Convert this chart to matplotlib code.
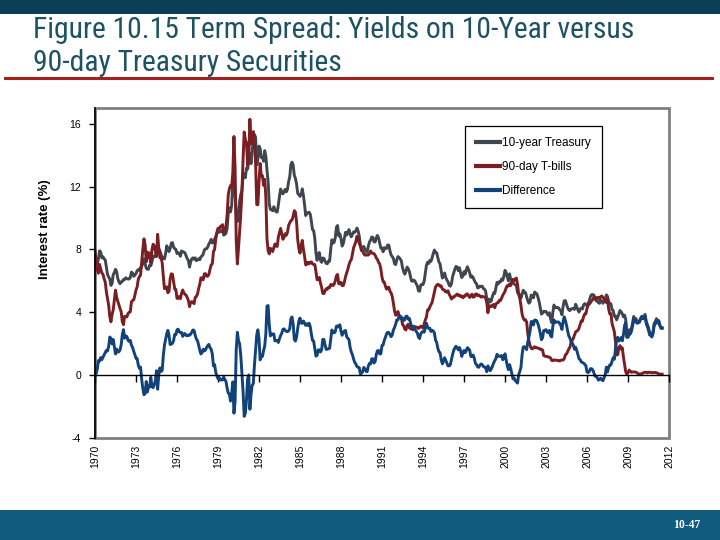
import numpy as np
import matplotlib
matplotlib.use("Agg")
import matplotlib.pyplot as plt
from matplotlib.patches import Rectangle
from matplotlib.lines import Line2D
from matplotlib import font_manager

# ---------------- data (monthly, Jan 1970 - Jul 2011) ----------------
start_year = 1970
t10 = [
    7.79, 7.24, 7.07, 7.39, 7.91, 7.84, 7.46, 7.53, 7.39, 7.33, 6.84, 6.39,
    6.24, 6.11, 5.70, 5.83, 6.39, 6.52, 6.73, 6.58, 6.14, 5.93, 5.81, 5.93,
    5.95, 6.08, 6.07, 6.19, 6.13, 6.11, 6.11, 6.21, 6.55, 6.48, 6.28, 6.36,
    6.46, 6.64, 6.71, 6.67, 6.85, 6.90, 7.13, 7.40, 7.09, 6.79, 6.73, 6.74,
    6.99, 6.96, 7.21, 7.51, 7.58, 7.54, 7.81, 8.04, 8.04, 7.90, 7.68, 7.43,
    7.50, 7.39, 7.73, 8.23, 8.06, 7.86, 8.06, 8.40, 8.43, 8.14, 8.05, 8.00,
    7.74, 7.79, 7.73, 7.56, 7.90, 7.86, 7.83, 7.77, 7.59, 7.41, 7.29, 6.87,
    7.21, 7.39, 7.46, 7.37, 7.46, 7.28, 7.33, 7.40, 7.34, 7.52, 7.58, 7.69,
    7.96, 8.03, 8.04, 8.15, 8.35, 8.46, 8.64, 8.41, 8.42, 8.64, 8.81, 9.01,
    9.10, 9.10, 9.12, 9.18, 9.25, 8.91, 8.95, 9.03, 9.33, 10.30, 10.65, 10.39,
    10.80, 12.41, 12.75, 11.47, 10.18, 9.78, 10.25, 11.10, 11.51, 11.75, 12.68, 12.84,
    12.57, 13.19, 13.12, 13.68, 14.10, 13.47, 14.28, 14.94, 15.32, 15.15, 13.39, 13.72,
    14.59, 14.43, 13.86, 13.87, 13.62, 14.30, 13.95, 13.06, 12.34, 10.91, 10.55, 10.54,
    10.46, 10.72, 10.51, 10.40, 10.38, 10.85, 11.38, 11.85, 11.65, 11.54, 11.69, 11.83,
    11.67, 11.84, 12.32, 12.63, 13.41, 13.56, 13.36, 12.72, 12.52, 12.16, 11.57, 11.50,
    11.38, 11.51, 11.86, 11.43, 10.85, 10.16, 10.31, 10.33, 10.37, 10.24, 9.78, 9.26,
    9.19, 8.70, 7.78, 7.30, 7.71, 7.80, 7.30, 7.17, 7.45, 7.43, 7.25, 7.11,
    7.08, 7.25, 7.25, 8.02, 8.61, 8.40, 8.45, 8.76, 9.42, 9.52, 8.86, 8.99,
    8.67, 8.21, 8.37, 8.72, 9.09, 8.92, 9.06, 9.26, 8.98, 8.80, 8.96, 9.11,
    9.09, 9.17, 9.36, 9.18, 8.86, 8.28, 8.02, 8.11, 8.19, 8.01, 7.87, 7.84,
    8.21, 8.47, 8.59, 8.79, 8.76, 8.48, 8.47, 8.75, 8.89, 8.72, 8.39, 8.08,
    8.09, 7.85, 8.11, 8.04, 8.07, 8.28, 8.27, 7.90, 7.65, 7.53, 7.42, 7.09,
    7.03, 7.34, 7.54, 7.48, 7.39, 7.26, 6.84, 6.59, 6.42, 6.59, 6.87, 6.77,
    6.60, 6.26, 5.98, 5.97, 6.04, 5.96, 5.81, 5.68, 5.36, 5.33, 5.72, 5.77,
    5.75, 5.97, 6.48, 6.97, 7.18, 7.10, 7.30, 7.24, 7.46, 7.74, 7.96, 7.81,
    7.78, 7.47, 7.20, 7.06, 6.63, 6.17, 6.28, 6.49, 6.20, 6.04, 5.93, 5.71,
    5.65, 5.81, 6.27, 6.51, 6.74, 6.91, 6.87, 6.64, 6.83, 6.53, 6.20, 6.30,
    6.58, 6.42, 6.69, 6.89, 6.71, 6.49, 6.22, 6.30, 6.21, 6.03, 5.88, 5.81,
    5.54, 5.57, 5.65, 5.64, 5.65, 5.50, 5.46, 5.34, 4.81, 4.53, 4.83, 4.65,
    4.72, 5.00, 5.23, 5.18, 5.54, 5.90, 5.79, 5.94, 5.92, 6.11, 6.03, 6.28,
    6.66, 6.52, 6.26, 5.99, 6.44, 6.10, 6.05, 5.83, 5.80, 5.74, 5.72, 5.24,
    5.16, 5.10, 4.89, 5.14, 5.39, 5.28, 5.24, 4.97, 4.73, 4.57, 4.65, 5.09,
    5.04, 4.91, 5.28, 5.21, 5.16, 4.93, 4.65, 4.26, 3.87, 3.94, 4.05, 4.03,
    4.05, 3.90, 3.81, 3.96, 3.57, 3.33, 3.98, 4.45, 4.27, 4.29, 4.30, 4.27,
    4.15, 4.08, 3.83, 4.35, 4.72, 4.73, 4.50, 4.28, 4.13, 4.10, 4.19, 4.23,
    4.22, 4.17, 4.50, 4.34, 4.14, 4.00, 4.18, 4.26, 4.20, 4.46, 4.54, 4.47,
    4.42, 4.57, 4.72, 4.99, 5.11, 5.11, 5.09, 4.88, 4.72, 4.73, 4.60, 4.56,
    4.76, 4.72, 4.56, 4.69, 4.75, 5.10, 5.00, 4.67, 4.52, 4.53, 4.15, 4.10,
    3.74, 3.74, 3.51, 3.68, 3.88, 4.10, 4.01, 3.89, 3.69, 3.81, 3.53, 2.42,
    2.52, 2.87, 2.82, 2.93, 3.29, 3.72, 3.56, 3.59, 3.40, 3.39, 3.40, 3.59,
    3.73, 3.69, 3.73, 3.85, 3.42, 3.20, 3.01, 2.70, 2.65, 2.54, 2.76, 3.29,
    3.39, 3.58, 3.41, 3.46, 3.17, 3.00, 3.00,
]
tbill = [
    7.91, 7.16, 6.71, 6.48, 7.04, 6.74, 6.50, 6.41, 6.12, 5.91, 5.28, 4.87,
    4.44, 3.70, 3.38, 3.86, 4.14, 4.75, 5.40, 4.94, 4.69, 4.46, 4.22, 4.01,
    3.38, 3.20, 3.73, 3.71, 3.69, 3.91, 3.98, 4.02, 4.66, 4.74, 4.78, 5.07,
    5.41, 5.60, 6.09, 6.26, 6.36, 7.19, 8.01, 8.67, 8.29, 7.22, 7.83, 7.45,
    7.77, 7.12, 7.96, 8.33, 8.23, 7.90, 7.55, 8.96, 8.06, 7.46, 7.47, 7.15,
    6.26, 5.50, 5.49, 5.61, 5.23, 5.34, 6.13, 6.44, 6.42, 5.96, 5.48, 5.44,
    4.87, 4.88, 5.00, 4.86, 5.20, 5.41, 5.23, 5.14, 5.08, 4.92, 4.75, 4.35,
    4.62, 4.67, 4.60, 4.54, 4.94, 5.00, 5.15, 5.50, 5.77, 6.19, 6.16, 6.06,
    6.44, 6.45, 6.29, 6.29, 6.41, 6.73, 7.01, 7.08, 7.85, 7.99, 8.64, 9.08,
    9.35, 9.27, 9.46, 9.49, 9.58, 9.05, 9.26, 9.45, 10.18, 11.47, 11.87, 12.07,
    12.00, 12.86, 15.20, 13.20, 8.58, 7.07, 8.06, 9.13, 10.27, 11.62, 13.73, 15.49,
    15.02, 14.79, 13.36, 13.69, 16.30, 14.73, 14.95, 15.51, 14.70, 13.54, 10.86, 10.85,
    12.28, 13.48, 12.68, 12.70, 12.09, 12.47, 11.35, 8.68, 7.92, 7.71, 8.07, 7.94,
    7.86, 8.11, 8.35, 8.21, 8.19, 8.79, 9.08, 9.34, 9.00, 8.64, 8.76, 9.00,
    8.90, 9.09, 9.52, 9.69, 9.83, 9.87, 10.12, 10.47, 10.37, 9.74, 8.61, 8.06,
    7.76, 8.22, 8.57, 8.00, 7.56, 7.01, 7.05, 7.18, 7.08, 7.17, 7.20, 7.07,
    7.04, 7.03, 6.59, 6.06, 6.12, 6.21, 5.84, 5.57, 5.19, 5.18, 5.35, 5.49,
    5.45, 5.59, 5.56, 5.76, 5.75, 5.69, 5.78, 6.00, 6.32, 6.40, 5.81, 5.80,
    5.90, 5.69, 5.69, 5.92, 6.27, 6.50, 6.73, 7.02, 7.23, 7.34, 7.68, 8.09,
    8.29, 8.48, 8.83, 8.70, 8.40, 8.22, 7.92, 7.91, 7.72, 7.63, 7.65, 7.64,
    7.64, 7.74, 7.90, 7.77, 7.74, 7.73, 7.62, 7.45, 7.36, 7.17, 7.06, 6.74,
    6.22, 5.94, 5.91, 5.65, 5.46, 5.57, 5.58, 5.33, 5.22, 4.99, 4.56, 4.07,
    3.80, 3.84, 4.04, 3.75, 3.63, 3.66, 3.21, 3.13, 2.91, 2.86, 3.13, 3.22,
    3.00, 2.93, 2.95, 2.87, 2.96, 3.07, 3.04, 3.02, 2.95, 3.02, 3.10, 3.06,
    2.98, 3.25, 3.50, 3.68, 4.14, 4.14, 4.33, 4.48, 4.62, 4.95, 5.29, 5.60,
    5.71, 5.77, 5.73, 5.65, 5.67, 5.47, 5.42, 5.40, 5.28, 5.28, 5.36, 5.14,
    5.00, 4.83, 4.96, 4.95, 5.02, 5.09, 5.15, 5.05, 5.09, 4.99, 5.03, 4.91,
    5.03, 5.01, 5.14, 5.16, 5.05, 4.93, 5.05, 5.14, 4.95, 4.97, 5.14, 5.16,
    5.04, 5.09, 5.03, 4.95, 5.00, 4.98, 4.96, 4.90, 4.61, 3.96, 4.41, 4.39,
    4.34, 4.45, 4.48, 4.28, 4.51, 4.59, 4.60, 4.76, 4.73, 4.88, 5.07, 5.20,
    5.32, 5.55, 5.69, 5.66, 5.79, 5.69, 5.96, 6.09, 6.00, 6.11, 6.17, 5.77,
    5.15, 4.88, 4.42, 3.87, 3.62, 3.49, 3.51, 3.36, 2.64, 2.16, 1.87, 1.69,
    1.65, 1.73, 1.79, 1.72, 1.73, 1.70, 1.68, 1.62, 1.63, 1.58, 1.23, 1.19,
    1.17, 1.17, 1.13, 1.13, 1.07, 0.92, 0.90, 0.95, 0.94, 0.92, 0.93, 0.90,
    0.88, 0.93, 0.94, 0.94, 1.02, 1.27, 1.33, 1.48, 1.65, 1.76, 2.07, 2.19,
    2.33, 2.54, 2.74, 2.78, 2.84, 2.97, 3.22, 3.44, 3.42, 3.71, 3.88, 3.89,
    4.24, 4.43, 4.51, 4.60, 4.72, 4.79, 4.95, 4.96, 4.81, 4.92, 4.94, 4.85,
    4.98, 5.03, 4.94, 4.87, 4.73, 4.61, 4.82, 4.20, 3.89, 3.90, 3.27, 3.00,
    2.75, 2.12, 1.26, 1.29, 1.73, 1.86, 1.63, 1.72, 1.13, 0.67, 0.19, 0.03,
    0.13, 0.30, 0.22, 0.16, 0.18, 0.18, 0.18, 0.17, 0.12, 0.07, 0.05, 0.05,
    0.06, 0.11, 0.15, 0.16, 0.16, 0.12, 0.16, 0.16, 0.15, 0.13, 0.14, 0.14,
    0.15, 0.13, 0.10, 0.06, 0.04, 0.04, 0.04,
]
series_labels = ["10-year Treasury", "90-day T-bills", "Difference"]
year_ticks = list(range(1970, 2013, 3))
y_ticks = [-4, 0, 4, 8, 12, 16]
title_lines = ["Figure 10.15 Term Spread: Yields on 10-Year versus",
               "90-day Treasury Securities"]
y_label = "Interest rate (%)"
slide_number = "10-47"

# ---------------- derived ----------------
t10_a = np.array(t10)
tb_a = np.array(tbill)
spread = t10_a - tb_a                  # the "Difference" series
months = start_year + np.arange(len(t10_a)) / 12.0

# ---------------- fonts ----------------
plt.rcParams["font.family"] = ["Liberation Sans", "DejaVu Sans"]
narrow = None
narrow_stretch = "normal"
entries = font_manager.fontManager.ttflist
for pref in ["Liberation Sans Narrow", "Arial Narrow", "Roboto Condensed",
             "Open Sans Condensed", "Noto Sans Condensed"]:
    if any(f.name == pref for f in entries):
        narrow = pref
        break
if narrow is None:
    for f in entries:
        if ("Narrow" in f.name or "Condensed" in f.name) and f.weight in (400, "normal", "regular"):
            narrow = f.name
            break
if narrow is None:
    for f in entries:
        if str(f.stretch) in ("condensed", "semi-condensed") and f.name in ("DejaVu Sans", "Noto Sans", "Open Sans", "Roboto"):
            narrow = f.name
            narrow_stretch = f.stretch
            break
if narrow is None:
    title_kw = dict(family=["Liberation Sans", "DejaVu Sans"], fontsize=19)
else:
    title_kw = dict(family=[narrow, "Liberation Sans", "DejaVu Sans"], fontsize=21.3,
                    stretch=narrow_stretch)

# ---------------- figure ----------------
W, H = 720, 540
fig = plt.figure(figsize=(7.2, 5.4), dpi=100)
fig.patch.set_facecolor("white")

# header and footer bands
fig.patches.append(Rectangle((0, 1 - 14 / H), 1, 14 / H, transform=fig.transFigure,
                             facecolor="#0B3E57", edgecolor="none", zorder=0))
fig.patches.append(Rectangle((0, 0), 1, 30 / H, transform=fig.transFigure,
                             facecolor="#0F5C7F", edgecolor="none", zorder=0))
fig.lines.append(Line2D([5 / W, 712 / W], [1 - 78 / H, 1 - 78 / H], transform=fig.transFigure,
                        color="#A3201E", linewidth=2.2))

fig.text(33 / W, 1 - 38 / H, title_lines[0], ha="left", va="baseline",
         color="#1C5262", **title_kw)
fig.text(33 / W, 1 - 71 / H, title_lines[1], ha="left", va="baseline",
         color="#1C5262", **title_kw)
fig.text(687 / W, 1 - 525 / H, slide_number, ha="center", va="center", fontsize=8.5,
         family=["Liberation Serif", "DejaVu Serif"], color="white", fontweight="bold")

# axes
ax_l, ax_r, ax_t, ax_b = 95, 669, 107.5, 437.5
ax = fig.add_axes([ax_l / W, 1 - ax_b / H, (ax_r - ax_l) / W, (ax_b - ax_t) / H])
ax.set_facecolor("white")

l1, = ax.plot(months, t10_a, color="#3E464F", linewidth=2.1, label=series_labels[0], zorder=3)
l2, = ax.plot(months, tb_a, color="#7A1E22", linewidth=2.1, label=series_labels[1], zorder=4)
l3, = ax.plot(months, spread, color="#12427A", linewidth=2.1, label=series_labels[2], zorder=5)

ax.set_xlim(1970, 2012)
ax.set_ylim(-4, 17.05)

# frame: gray box, black left axis, black zero axis
ax.add_patch(Rectangle((0, 0), 1, 1, transform=ax.transAxes, fill=False,
                       edgecolor="#808080", linewidth=2.0, clip_on=False, zorder=1))
for s in ["top", "right"]:
    ax.spines[s].set_visible(False)
ax.spines["left"].set_color("black")
ax.spines["left"].set_linewidth(1.2)
ax.spines["left"].set_zorder(6)
ax.spines["bottom"].set_position(("data", 0))
ax.spines["bottom"].set_color("black")
ax.spines["bottom"].set_linewidth(1.0)
ax.spines["bottom"].set_zorder(6)

ax.set_yticks(y_ticks)
ax.set_yticklabels([str(v) for v in y_ticks])
ax.tick_params(axis="y", direction="out", length=4, width=1, labelsize=7.5, pad=6,
               colors="black")
ax.set_xticks(year_ticks)
ax.set_xticklabels([str(y) for y in year_ticks], rotation=90, va="top", ha="center")
ax.tick_params(axis="x", direction="out", length=5, width=1, labelsize=7.5, pad=45.5)

fig.text(45 / W, 1 - 229 / H, y_label, rotation=90, ha="center", va="center",
         fontsize=9.5, fontweight="bold", color="black")

leg = ax.legend(handles=[l1, l2, l3], loc="upper left",
                bbox_to_anchor=((465 - ax_l) / (ax_r - ax_l), (ax_b - 126) / (ax_b - ax_t)),
                frameon=True, fancybox=False, framealpha=1, edgecolor="black",
                fontsize=8.5, handlelength=2.0, handletextpad=0.2, labelspacing=1.0,
                borderpad=0.95, borderaxespad=0)
leg.get_frame().set_linewidth(0.9)
for h in leg.legend_handles:
    h.set_linewidth(3)
leg.set_zorder(10)

fig.savefig("out.png", dpi=100)
